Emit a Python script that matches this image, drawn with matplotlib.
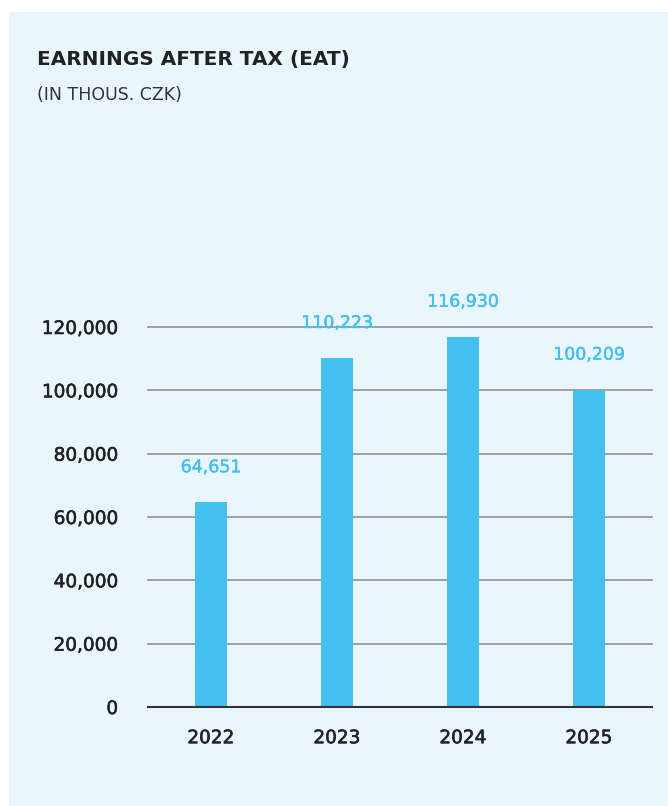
import matplotlib
matplotlib.use("Agg")
import matplotlib.pyplot as plt
import matplotlib.patheffects as pe
from matplotlib.patches import Rectangle
from matplotlib.ticker import FuncFormatter

# Earnings after tax, thousands of CZK
years = ["2022", "2023", "2024", "2025"]
eat = [64651, 110223, 116930, 100209]
y_ticks = [0, 20000, 40000, 60000, 80000, 100000, 120000]

panel_bg = "#EAF6FE"
bar_color = "#42C0EF"
text_dark = "#222222"
grid_color = "#9A9A9A"

plt.rcParams["font.family"] = ["DejaVu Sans"]

W, H = 668, 806
fig = plt.figure(figsize=(W / 100, H / 100), dpi=100)
fig.patch.set_facecolor("white")

# light panel behind the chart
fig.patches.append(Rectangle((9 / W, 0), 1 - 9 / W, 1 - 12 / H,
                             transform=fig.transFigure, facecolor=panel_bg,
                             edgecolor="none", zorder=-10))

fig.text(37 / W, 1 - 60 / H, "EARNINGS AFTER TAX (EAT)", fontsize=14.4,
         fontweight="bold", color=text_dark, va="center", ha="left")
fig.text(37 / W, 1 - 95 / H, "(IN THOUS. CZK)", fontsize=12.5,
         color="#333333", va="center", ha="left")

ax_left, ax_right = 148, 652
ax_top, ax_bottom = 327, 707
ax = fig.add_axes([ax_left / W, 1 - ax_bottom / H,
                   (ax_right - ax_left) / W, (ax_bottom - ax_top) / H])
ax.set_facecolor("none")

x = range(len(years))
bars = ax.bar(x, eat, width=0.25, color=bar_color, zorder=3)

ax.set_xlim(-0.5, len(years) - 0.5)
ax.set_ylim(0, 120000)
ax.set_yticks(y_ticks)
ax.yaxis.set_major_formatter(FuncFormatter(lambda v, p: f"{int(v):,}"))
ax.set_xticks(list(x))
ax.set_xticklabels(years)

for gy in y_ticks[1:]:
    ax.axhline(gy, color=grid_color, lw=1.3, zorder=1, clip_on=False)
ax.axhline(0, color="#333333", lw=1.5, zorder=4, clip_on=False)

for s in ax.spines.values():
    s.set_visible(False)
ax.tick_params(axis="both", length=0, labelsize=13.3, colors=text_dark)
ax.tick_params(axis="y", pad=21.5)
ax.tick_params(axis="x", pad=16)

# slightly heavier stroke for the axis labels (medium weight look)
medium = [pe.withStroke(linewidth=0.4, foreground=text_dark)]
for lab in ax.get_xticklabels() + ax.get_yticklabels():
    lab.set_path_effects(medium)

for rect, val in zip(bars, eat):
    ax.annotate(f"{val:,}", (rect.get_x() + rect.get_width() / 2, val),
                xytext=(0, 35), textcoords="offset pixels",
                ha="center", va="center", fontsize=12.5, color=bar_color,
                path_effects=[pe.withStroke(linewidth=0.3, foreground=bar_color)])

fig.savefig("out.png", dpi=100, facecolor=fig.get_facecolor())
